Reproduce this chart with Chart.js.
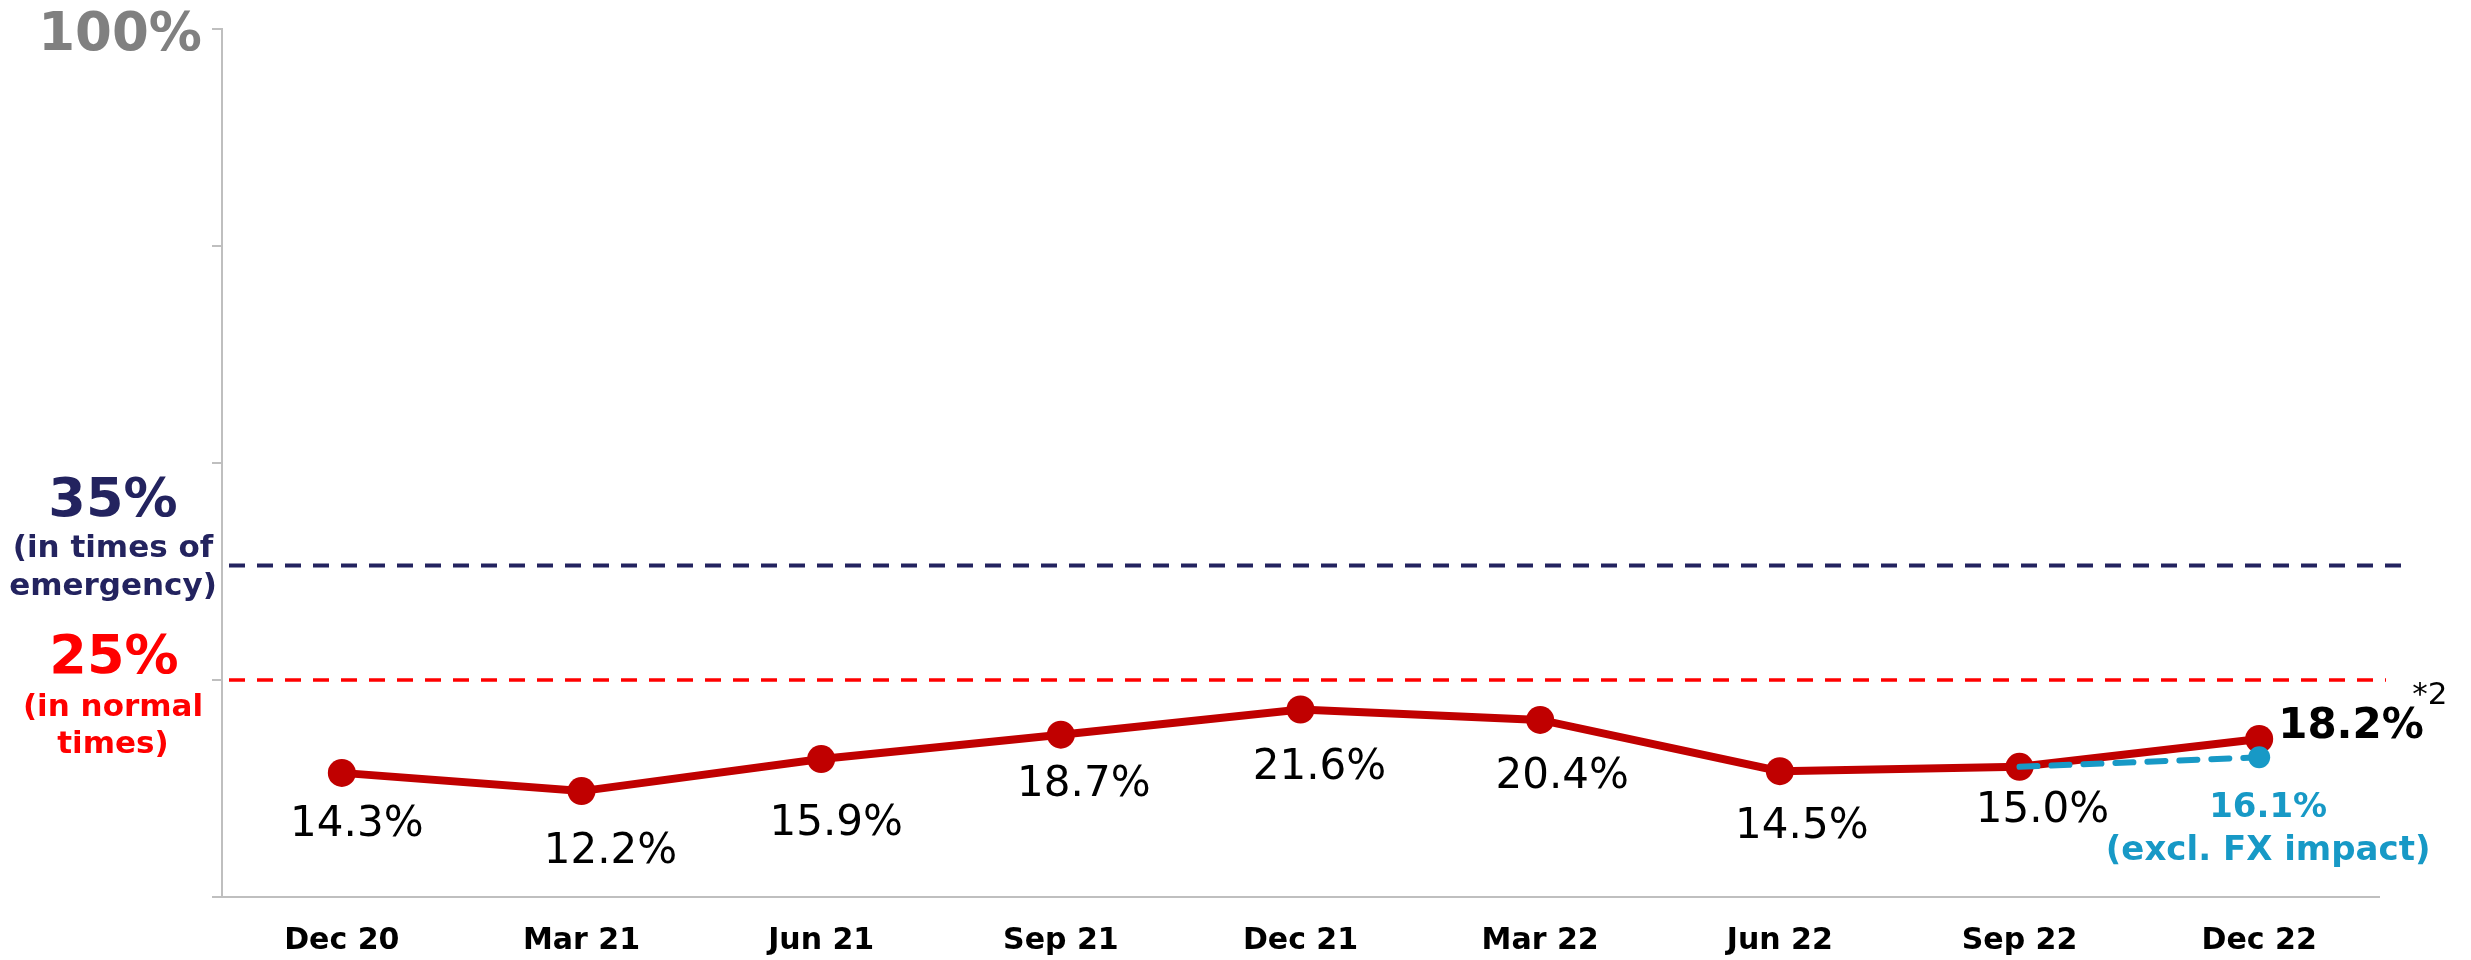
<!DOCTYPE html>
<html>
<head>
<meta charset="utf-8">
<script src="https://cdn.jsdelivr.net/npm/chart.js@4/dist/chart.umd.min.js"></script>
<style>
  html, body { margin: 0; padding: 0; background: #fff; }
  #chart { display: block; }
</style>
</head>
<body>
<canvas id="chart" width="2471" height="960"></canvas>
<script>
// データ
const categories = ['Dec 20', 'Mar 21', 'Jun 21', 'Sep 21', 'Dec 21', 'Mar 22', 'Jun 22', 'Sep 22', 'Dec 22'];
const ratioValues = [14.3, 12.2, 15.9, 18.7, 21.6, 20.4, 14.5, 15.0, 18.2];
const exclFxValues = [null, null, null, null, null, null, null, 15.0, 16.1];
const yTickStep = 25;
const yMax = 100;
const normalLevel = 25;      // 25% (in normal times)
const emergencyLevel = 38.2; // 35%ラベルの線（元の図ではこの高さに描かれている）

// 色
const RED = '#c00000';
const TEAL = '#1799c6';
const NAVY = '#23235f';
const AXIS = '#bfbfbf';
const FONT = '"DejaVu Sans", Verdana, sans-serif';

// ラベル位置の微調整（点からのずれ px）
const labelDx = [15, 29, 15, 23, 19, 22, 22, 23];
const labelDy = [63, 72, 76, 61, 69, 68, 67, 55];

const overlay = {
  id: 'overlay',
  beforeDraw(chart) {
    const c = chart.ctx;
    c.save();
    c.fillStyle = '#fff';
    c.fillRect(0, 0, chart.width, chart.height);
    c.restore();
  },
  beforeDatasetsDraw(chart) {
    const c = chart.ctx;
    const y = chart.scales.y;
    const left = chart.chartArea.left + 7;
    c.save();
    c.setLineDash([16, 12]);
    c.lineWidth = 4;
    c.strokeStyle = NAVY;
    c.beginPath();
    c.moveTo(left, y.getPixelForValue(emergencyLevel));
    c.lineTo(2401, y.getPixelForValue(emergencyLevel));
    c.stroke();
    c.lineWidth = 3.5;
    c.strokeStyle = '#ff0000';
    c.beginPath();
    c.moveTo(left, y.getPixelForValue(normalLevel));
    c.lineTo(2386, y.getPixelForValue(normalLevel));
    c.stroke();
    c.restore();
  },
  afterDraw(chart) {
    const c = chart.ctx;
    c.save();
    c.textBaseline = 'alphabetic';

    // 左側のラベル
    c.textAlign = 'center';
    c.fillStyle = '#808080';
    c.font = `bold 53px ${FONT}`;
    c.fillText('100%', 120, 50);

    c.fillStyle = NAVY;
    c.font = `bold 54px ${FONT}`;
    c.fillText('35%', 113, 516);
    c.font = `bold 31px ${FONT}`;
    c.fillText('(in times of', 113, 557);
    c.fillText('emergency)', 113, 595);

    c.fillStyle = '#ff0000';
    c.font = `bold 54px ${FONT}`;
    c.fillText('25%', 114, 673);
    c.font = `bold 31px ${FONT}`;
    c.fillText('(in normal', 113, 716);
    c.fillText('times)', 113, 753);

    // データラベル
    const pts = chart.getDatasetMeta(1).data;
    c.fillStyle = '#000';
    c.font = `42px ${FONT}`;
    for (let i = 0; i < pts.length - 1; i++) {
      c.fillText(ratioValues[i].toFixed(1) + '%', pts[i].x + labelDx[i], pts[i].y + labelDy[i]);
    }
    const last = pts[pts.length - 1];
    c.textAlign = 'left';
    c.font = `bold 42px ${FONT}`;
    c.fillText(ratioValues[ratioValues.length - 1].toFixed(1) + '%', last.x + 19, last.y - 1);
    c.font = `31px ${FONT}`;
    c.fillText('*2', last.x + 153, last.y - 35);

    const fxPts = chart.getDatasetMeta(0).data;
    const fx = fxPts[fxPts.length - 1];
    c.textAlign = 'center';
    c.fillStyle = TEAL;
    c.font = `bold 34px ${FONT}`;
    c.fillText(exclFxValues[exclFxValues.length - 1].toFixed(1) + '%', fx.x + 9, fx.y + 60);
    c.fillText('(excl. FX impact)', fx.x + 9, fx.y + 103);
    c.restore();
  }
};

new Chart(document.getElementById('chart'), {
  type: 'line',
  data: {
    labels: categories,
    datasets: [
      {
        label: 'excl. FX impact',
        data: exclFxValues,
        borderColor: TEAL,
        backgroundColor: TEAL,
        borderWidth: 6,
        borderDash: [18, 14],
        borderCapStyle: 'round',
        pointRadius: exclFxValues.map((v, i) => i === exclFxValues.length - 1 ? 11 : 0),
        pointBorderWidth: 0,
        pointBackgroundColor: TEAL,
        tension: 0,
        order: 1
      },
      {
        label: 'ratio',
        data: ratioValues,
        borderColor: RED,
        backgroundColor: RED,
        borderWidth: 8,
        pointRadius: 14,
        pointBorderWidth: 0,
        pointBackgroundColor: RED,
        tension: 0,
        order: 2
      }
    ]
  },
  options: {
    responsive: false,
    animation: false,
    devicePixelRatio: 1,
    layout: { padding: { top: 29, right: 92, left: 0, bottom: 0 } },
    plugins: { legend: { display: false }, tooltip: { enabled: false } },
    scales: {
      x: {
        offset: true,
        grid: { display: false, drawTicks: false },
        border: { display: true, color: AXIS, width: 2 },
        ticks: {
          color: '#000',
          font: { family: FONT, size: 30, weight: 'bold' },
          padding: 26,
          maxRotation: 0
        },
        afterFit(s) { s.height = 63; }
      },
      y: {
        min: 0,
        max: yMax,
        ticks: { stepSize: yTickStep, display: false },
        grid: { drawOnChartArea: false, drawTicks: true, tickLength: 10, color: AXIS, lineWidth: 2 },
        border: { display: true, color: AXIS, width: 2 },
        afterFit(s) { s.width = 222; }
      }
    }
  },
  plugins: [overlay]
});
</script>
</body>
</html>
